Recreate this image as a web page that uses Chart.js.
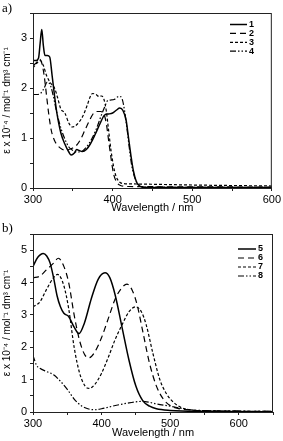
<!DOCTYPE html>
<html>
<head>
<title>Absorption spectra</title>
<script src="https://cdn.jsdelivr.net/npm/chart.js@4.4.1/dist/chart.umd.min.js"></script>
<style>
    body { margin: 0; background: white; width: 283px; height: 441px; overflow: hidden; position: relative; }
    .panel { position: absolute; left: 0; width: 283px; }
    .tag { position: absolute; left: 2px; font-family: "Liberation Serif", serif; font-size: 13px; color: #000; }
</style>
</head>
<body>

<div class="panel" style="top:0; height:220px;"><canvas id="chartA" width="283" height="220"></canvas></div>
<div class="panel" style="top:220px; height:221px;"><canvas id="chartB" width="283" height="221"></canvas></div>
<div class="tag" style="top:0px;">a)</div>
<div class="tag" style="top:220px;">b)</div>

<script>
// ---- panel a data (wavelength nm, epsilon x 10^-4) ----
const labelsA = ["1", "2", "3", "4"];
const wl1 = [300,304,307,309,311,313,315,318,321,324,327,330,335,340,345,348,352,355,358,362,367,372,378,384,390,395,400,405,409,413,417,420,423,426,430,435,440,600];
const eps1 = [2.55,2.55,2.6,2.9,3.17,2.85,2.65,2.65,2.62,2.25,1.85,1.5,1.1,0.88,0.72,0.66,0.7,0.77,0.75,0.73,0.77,0.88,1.07,1.28,1.46,1.48,1.5,1.56,1.6,1.55,1.35,1.0,0.65,0.35,0.12,0.03,0.01,0.01];
const wl2 = [300,304,308,311,314,317,320,323,327,331,336,340,345,350,355,360,365,370,375,380,385,389,392,395,398,401,405,410,420,600];
const eps2 = [2.45,2.5,2.58,2.5,2.25,1.85,1.45,1.15,0.95,0.85,0.78,0.76,0.77,0.8,0.86,0.98,1.15,1.32,1.47,1.53,1.53,1.48,1.3,0.95,0.6,0.3,0.12,0.05,0.03,0.02];
const wl3 = [300,305,309,313,317,322,327,331,335,340,345,349,353,358,363,368,372,375,379,383,386,389,392,395,398,401,404,408,414,430,500,600];
const eps3 = [2.4,2.5,2.55,2.45,2.25,2.1,2.0,1.8,1.58,1.5,1.3,1.22,1.24,1.32,1.45,1.65,1.83,1.89,1.87,1.83,1.84,1.78,1.55,1.15,0.75,0.45,0.25,0.13,0.09,0.08,0.06,0.04];
const wl4 = [300,305,310,314,318,322,326,330,335,340,345,350,355,360,365,370,375,380,385,390,394,398,402,406,409,412,415,418,421,424,428,433,440,600];
const eps4 = [1.87,1.87,1.9,2.0,2.12,2.05,1.8,1.5,1.2,0.98,0.82,0.75,0.72,0.72,0.78,0.88,1.02,1.2,1.42,1.62,1.75,1.76,1.77,1.82,1.83,1.78,1.55,1.2,0.8,0.45,0.2,0.06,0.02,0.01];

// ---- panel b data ----
const labelsB = ["5", "6", "7", "8"];
const wl5 = [300,307,315,320,325,330,335,340,345,352,360,367,375,385,395,405,412,420,430,440,450,460,470,480,500,550,650];
const eps5 = [4.5,4.78,4.9,4.82,4.6,4.15,3.6,3.25,3.05,2.95,2.62,2.42,2.75,3.5,4.1,4.3,4.15,3.6,2.6,1.6,0.8,0.35,0.18,0.1,0.05,0.02,0.01];
const wl6 = [300,310,320,330,337,345,352,360,368,376,382,390,400,410,420,430,437,445,452,460,470,480,490,500,510,520,550,650];
const eps6 = [4.15,4.2,4.4,4.6,4.75,4.5,4.0,3.0,2.2,1.75,1.68,1.85,2.3,2.9,3.5,3.85,3.95,3.75,3.3,2.5,1.5,0.8,0.4,0.2,0.12,0.08,0.04,0.02];
const wl7 = [300,310,320,330,336,345,352,360,368,376,382,390,400,410,420,430,440,450,458,465,475,485,495,505,515,525,550,650];
const eps7 = [3.25,3.4,3.8,4.15,4.25,3.9,3.2,2.0,1.2,0.8,0.73,0.85,1.2,1.7,2.25,2.7,3.1,3.25,3.1,2.7,1.8,1.0,0.55,0.3,0.15,0.08,0.04,0.02];
const wl8 = [300,305,310,320,330,340,350,360,370,380,390,400,420,440,460,470,480,500,520,540,650];
const eps8 = [1.75,1.45,1.35,1.25,1.15,0.95,0.7,0.4,0.2,0.1,0.07,0.1,0.2,0.28,0.33,0.3,0.25,0.18,0.1,0.05,0.02];

const dashes = [[], [6, 4], [3, 2], [6, 2, 1.5, 2, 1.5, 2]];
const widths = [1.5, 1.2, 1.2, 1.2];

function pts(xs, ys) {
    return xs.map((x, i) => ({ x: x, y: ys[i] }));
}

function makeSets(labels, xsList, ysList) {
    return labels.map((lab, i) => ({
        label: lab,
        data: pts(xsList[i], ysList[i]),
        borderColor: "#000",
        borderWidth: widths[i],
        borderDash: dashes[i],
        pointRadius: 0,
        fill: false,
        cubicInterpolationMode: "monotone"
    }));
}

// box around the plot area
const framePlugin = {
    id: "frame",
    afterDraw(chart) {
        const a = chart.chartArea, ctx = chart.ctx;
        ctx.save();
        ctx.strokeStyle = "#222";
        ctx.lineWidth = 1;
        ctx.strokeRect(a.left + 0.5, a.top + 0.5, a.right - a.left - 1, a.bottom - a.top);
        ctx.restore();
    }
};

// legend drawn inside the plot, line sample then label
const insetLegend = {
    id: "insetLegend",
    afterDraw(chart, args, opts) {
        const ctx = chart.ctx;
        ctx.save();
        ctx.font = "bold 9px 'Liberation Sans', Arial, sans-serif";
        ctx.fillStyle = "#000";
        ctx.textBaseline = "middle";
        chart.data.datasets.forEach((ds, i) => {
            const y = opts.y0 + i * opts.dy;
            ctx.strokeStyle = ds.borderColor;
            ctx.lineWidth = ds.borderWidth;
            ctx.setLineDash(ds.borderDash);
            ctx.beginPath();
            ctx.moveTo(opts.x1, y);
            ctx.lineTo(opts.x2, y);
            ctx.stroke();
            ctx.setLineDash([]);
            ctx.fillText(ds.label, opts.x2 + 2, y);
        });
        ctx.restore();
    }
};

Chart.defaults.font.family = "'Liberation Sans', Arial, sans-serif";
Chart.defaults.color = "#000";

function makeChart(id, sets, xMax, yMax, pad, xh, legendPos) {
    return new Chart(document.getElementById(id), {
        type: "line",
        data: { datasets: sets },
        plugins: [framePlugin, insetLegend],
        options: {
            responsive: false,
            animation: false,
            layout: { padding: pad },
            plugins: {
                legend: { display: false },
                tooltip: { enabled: false },
                insetLegend: legendPos
            },
            scales: {
                x: {
                    type: "linear",
                    min: 300,
                    max: xMax,
                    border: { color: "#222", width: 1 },
                    grid: { drawOnChartArea: false, drawTicks: true, tickLength: 3, color: "#222" },
                    ticks: {
                        stepSize: 50,
                        padding: 2,
                        maxRotation: 0,
                        autoSkip: false,
                        font: { size: 11 },
                        callback: v => (v % 100 === 0 ? v : "")
                    },
                    title: { display: true, text: "Wavelength / nm", font: { size: 11 }, padding: { top: 0, bottom: 0 } },
                    afterFit: s => { s.height = xh; }
                },
                y: {
                    min: 0,
                    max: yMax,
                    border: { color: "#222", width: 1 },
                    grid: { drawOnChartArea: false, drawTicks: true, tickLength: 3, color: "#222" },
                    ticks: {
                        stepSize: 0.5,
                        padding: 3,
                        autoSkip: false,
                        font: { size: 11 },
                        callback: v => (Number.isInteger(v) ? v : "")
                    },
                    title: { display: true, text: "ε x 10⁻⁴ / mol⁻¹ dm³ cm⁻¹", font: { size: 10 }, padding: { top: 1, bottom: 0 } },
                    afterFit: s => { s.width = 33; }
                }
            }
        }
    });
}

makeChart("chartA",
    makeSets(labelsA, [wl1, wl2, wl3, wl4], [eps1, eps2, eps3, eps4]),
    600, 3.5,
    { top: 13, right: 10, bottom: 5, left: 0 }, 27,
    { x1: 230, x2: 247, y0: 24.5, dy: 8.9 });

makeChart("chartB",
    makeSets(labelsB, [wl5, wl6, wl7, wl8], [eps5, eps6, eps7, eps8]),
    650, 5.5,
    { top: 14, right: 10, bottom: 1, left: 0 }, 28,
    { x1: 238, x2: 256, y0: 29, dy: 9 });
</script>
</body>
</html>
